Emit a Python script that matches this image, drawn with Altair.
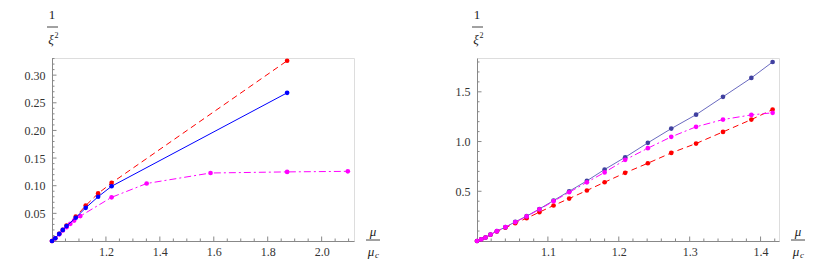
import altair as alt
import pandas as pd

FONT = "Times New Roman, Liberation Serif, serif"

# ---------------- left panel data ----------------
l_red_x = [1.0, 1.012, 1.027, 1.040, 1.054, 1.088, 1.125, 1.171, 1.221, 1.872]
l_red_y = [0.0, 0.005, 0.013, 0.020, 0.028, 0.044, 0.064, 0.086, 0.105, 0.326]
l_blue_x = [1.0, 1.012, 1.027, 1.040, 1.054, 1.088, 1.125, 1.171, 1.221, 1.872]
l_blue_y = [0.0, 0.005, 0.013, 0.020, 0.027, 0.042, 0.060, 0.080, 0.099, 0.268]
l_mag_x = [1.0, 1.012, 1.027, 1.040, 1.054, 1.068, 1.082, 1.105, 1.221, 1.351, 1.588, 1.872, 2.097]
l_mag_y = [0.0, 0.005, 0.012, 0.019, 0.025, 0.031, 0.037, 0.045, 0.079, 0.104, 0.123, 0.125, 0.126]

l_x_labels = [1.2, 1.4, 1.6, 1.8, 2.0]
l_y_labels = [0.05, 0.10, 0.15, 0.20, 0.25, 0.30]

# ---------------- right panel data ----------------
r_x = [1.0, 1.006, 1.012, 1.019, 1.028, 1.040, 1.054, 1.070, 1.088, 1.108,
       1.130, 1.155, 1.180, 1.209, 1.241, 1.274, 1.309, 1.347, 1.387, 1.417]
r_blue_y = [0.0, 0.017, 0.035, 0.065, 0.099, 0.139, 0.193, 0.250, 0.322, 0.407,
            0.500, 0.605, 0.719, 0.842, 0.987, 1.130, 1.270, 1.450, 1.640, 1.800]
r_mag_y = [0.0, 0.017, 0.035, 0.065, 0.099, 0.139, 0.190, 0.247, 0.318, 0.400,
           0.490, 0.590, 0.690, 0.816, 0.933, 1.047, 1.148, 1.221, 1.268, 1.289]
r_red_y = [0.0, 0.017, 0.035, 0.063, 0.096, 0.133, 0.179, 0.229, 0.290, 0.357,
           0.427, 0.508, 0.591, 0.685, 0.782, 0.886, 0.980, 1.097, 1.221, 1.322]

r_x_labels = [1.1, 1.2, 1.3, 1.4]
r_y_labels = [0.5, 1.0, 1.5]

RED = "#ff0000"
BLUE = "#0000ff"
SLATE = "#4040a0"
MAG = "#ff00ff"
AXIS_C = "#888888"
LABEL_C = "#333333"
TXT_C = "#222222"


def ticks(start, stop, step):
    n = int(round((stop - start) / step))
    return [round(start + i * step, 4) for i in range(n + 1)]


def panel(series, xdom, ydom, W, H, xlab, ylab, yfmt, xfmt,
          xminor, yminor):
    xs = alt.Scale(domain=xdom, nice=False, zero=False)
    ys = alt.Scale(domain=ydom, nice=False, zero=False)
    xaxis = alt.Axis(values=xlab, format=xfmt, ticks=False, grid=False, title=None,
                     domainColor=AXIS_C, domainWidth=1, labelFont=FONT, labelFontSize=12,
                     labelColor=LABEL_C, labelPadding=5, labelFlush=False, labelOverlap=False)
    yaxis = alt.Axis(values=ylab, format=yfmt, ticks=False, grid=False, title=None,
                     domainColor=AXIS_C, domainWidth=1, labelFont=FONT, labelFontSize=12,
                     labelColor=LABEL_C, labelPadding=7, labelOverlap=False)

    def X(f):
        return alt.X(f, scale=xs, axis=xaxis)

    def Y(f):
        return alt.Y(f, scale=ys, axis=yaxis)

    layers = []
    for xv, yv, lc, pc, dash in series:
        df = pd.DataFrame({"x": xv, "y": yv})
        kw = {}
        if dash:
            kw["strokeDash"] = dash
        layers.append(alt.Chart(df).mark_line(color=lc, strokeWidth=1, **kw).encode(
            x=X("x:Q"), y=Y("y:Q")))
        layers.append(alt.Chart(df).mark_circle(color=pc, size=22, opacity=1).encode(
            x=X("x:Q"), y=Y("y:Q")))

    # inward ticks (Mathematica style)
    xmaj = pd.DataFrame({"x": xlab})
    xmin = pd.DataFrame({"x": [v for v in xminor if all(abs(v - m) > 1e-6 for m in xlab)]})
    ymaj = pd.DataFrame({"y": ylab})
    ymin = pd.DataFrame({"y": [v for v in yminor if all(abs(v - m) > 1e-6 for m in ylab)]})
    layers.append(alt.Chart(xmaj).mark_rule(color=AXIS_C, strokeWidth=1).encode(
        x=X("x:Q"), y=alt.value(H), y2=alt.value(H - 4.5)))
    layers.append(alt.Chart(xmin).mark_rule(color=AXIS_C, strokeWidth=1).encode(
        x=X("x:Q"), y=alt.value(H), y2=alt.value(H - 2.5)))
    layers.append(alt.Chart(ymaj).mark_rule(color=AXIS_C, strokeWidth=1).encode(
        y=Y("y:Q"), x=alt.value(0), x2=alt.value(4.5)))
    layers.append(alt.Chart(ymin).mark_rule(color=AXIS_C, strokeWidth=1).encode(
        y=Y("y:Q"), x=alt.value(0), x2=alt.value(2.5)))

    one = pd.DataFrame({"a": [0]})

    def txt(t, x, y, size=13, style="normal"):
        return alt.Chart(one).mark_text(text=t, font=FONT, fontSize=size, fontStyle=style,
                                        color=TXT_C).encode(x=alt.value(x), y=alt.value(y))

    def bar(x1, x2, y):
        return alt.Chart(one).mark_rule(color="#444444", strokeWidth=1).encode(
            x=alt.value(x1), x2=alt.value(x2), y=alt.value(y))

    # y axis title: 1 / xi^2
    layers.append(txt("1", 0, -43))
    layers.append(bar(-5, 6, -31))
    layers.append(txt("ξ", -1, -18, 13, "italic"))
    layers.append(txt("2", 4.5, -22, 8))
    # x axis title: mu / mu_c
    layers.append(txt("μ", W + 19, H - 9, 13, "italic"))
    layers.append(bar(W + 12, W + 26, H - 1))
    layers.append(txt("μ", W + 17, H + 11, 13, "italic"))
    layers.append(txt("c", W + 23, H + 14, 9, "italic"))

    return alt.layer(*layers).properties(width=W, height=H)


H = 183
left = panel(
    [
        (l_red_x, l_red_y, RED, RED, [6, 4]),
        (l_mag_x, l_mag_y, MAG, MAG, [7, 3, 2, 3]),
        (l_blue_x, l_blue_y, BLUE, BLUE, None),
    ],
    xdom=[1.0, 2.12], ydom=[0.0, 0.331], W=302, H=H,
    xlab=l_x_labels, ylab=l_y_labels, yfmt=".2f", xfmt=".1f",
    xminor=ticks(1.05, 2.10, 0.05), yminor=ticks(0.01, 0.33, 0.01),
)

right = panel(
    [
        (r_x, r_red_y, RED, RED, [6, 4]),
        (r_x, r_blue_y, "#6a6ac0", SLATE, None),
        (r_x, r_mag_y, MAG, MAG, [7, 3, 2, 3]),
    ],
    xdom=[1.0, 1.426], ydom=[0.0, 1.84], W=302, H=H,
    xlab=r_x_labels, ylab=r_y_labels, yfmt=".1f", xfmt=".1f",
    xminor=ticks(1.02, 1.42, 0.02), yminor=ticks(0.1, 1.8, 0.1),
)

chart = alt.hconcat(left, right, spacing=123, bounds="flush").resolve_scale(
    x="independent", y="independent"
).properties(
    padding={"left": 15, "top": 0, "right": 0, "bottom": 0},
).configure_view(stroke=None).configure_axis(
    labelOverlap=False, labelFont=FONT, labelFontSize=12
).configure(background="white", font=FONT)

chart.save("out.html", embed_options={"renderer": "svg", "actions": False})
